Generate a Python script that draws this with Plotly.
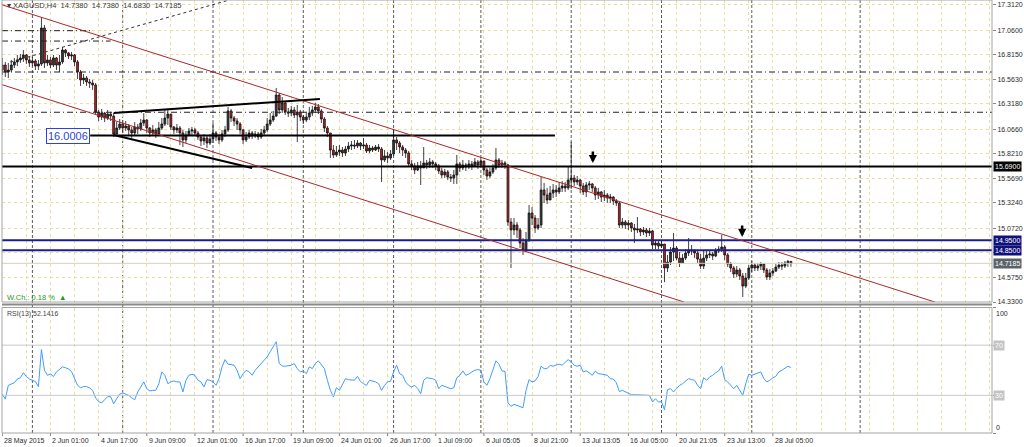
import plotly.graph_objects as go

# ---------------- data ----------------
SYMBOL = "XAGUSD,H4"
FIRST_OPEN = 16.659

BAR_CLOSE = [
    16.709, 16.639, 16.659, 16.709, 16.740, 16.760, 16.780, 16.810, 16.760, 16.730,
    16.750, 16.699, 16.720, 17.081, 16.730, 16.760, 16.709, 16.780, 16.709, 16.740,
    16.860, 16.830, 16.800, 16.810, 16.740, 16.639, 16.559, 16.579, 16.539, 16.529,
    16.509, 16.238, 16.187, 16.227, 16.177, 16.217, 16.197, 16.017, 16.077, 16.117,
    16.077, 16.097, 16.057, 16.027, 16.087, 16.067, 16.127, 16.157, 16.077, 16.027,
    16.057, 16.017, 16.077, 16.117, 16.177, 16.217, 16.087, 16.057, 16.077, 16.027,
    15.957, 16.007, 16.047, 16.057, 16.027, 15.987, 15.947, 15.977, 15.926, 15.967,
    16.027, 15.987, 15.957, 16.017, 16.057, 16.248, 16.177, 16.147, 16.117, 16.057,
    15.957, 15.987, 16.027, 15.997, 16.017, 15.987, 16.027, 16.057, 16.117, 16.157,
    16.197, 16.408, 16.258, 16.328, 16.238, 16.227, 16.258, 16.207, 16.238, 16.187,
    16.157, 16.187, 16.227, 16.258, 16.288, 16.248, 16.167, 16.077, 16.027, 15.856,
    15.806, 15.836, 15.856, 15.826, 15.866, 15.896, 15.906, 15.896, 15.926, 15.896,
    15.906, 15.846, 15.876, 15.856, 15.886, 15.866, 15.756, 15.796, 15.776, 15.816,
    15.957, 15.926, 15.886, 15.856, 15.826, 15.716, 15.696, 15.655, 15.696, 15.676,
    15.726, 15.706, 15.736, 15.716, 15.696, 15.645, 15.605, 15.635, 15.585, 15.575,
    15.605, 15.716, 15.676, 15.706, 15.686, 15.716, 15.696, 15.736, 15.706, 15.746,
    15.655, 15.595, 15.635, 15.676, 15.756, 15.706, 15.726, 15.706, 15.133, 15.053,
    15.103, 15.053, 14.922, 14.852, 14.952, 15.223, 15.173, 15.073, 15.103, 15.455,
    15.404, 15.354, 15.424, 15.455, 15.435, 15.475, 15.495, 15.475, 15.555, 15.575,
    15.535, 15.555, 15.495, 15.435, 15.505, 15.515, 15.475, 15.404, 15.435, 15.384,
    15.404, 15.374, 15.384, 15.344, 15.324, 15.103, 15.133, 15.103, 15.123, 15.073,
    15.053, 15.063, 15.033, 15.053, 15.023, 15.043, 14.902, 14.922, 14.892, 14.912,
    14.671, 14.731, 14.832, 14.872, 14.771, 14.721, 14.771, 14.822, 14.852, 14.842,
    14.822, 14.761, 14.691, 14.771, 14.802, 14.812, 14.792, 14.842, 14.862, 14.882,
    14.802, 14.711, 14.671, 14.611, 14.651, 14.591, 14.490, 14.571, 14.671, 14.701,
    14.671, 14.691, 14.711, 14.651, 14.581, 14.621, 14.641, 14.681, 14.701, 14.691,
    14.721, 14.738, 14.7185,
]

BAR_HIGH = [
    16.780, 16.740, 16.730, 16.760, 16.780, 16.810, 16.820, 16.860, 16.820, 16.790,
    16.790, 16.770, 16.760, 17.191, 17.111, 16.810, 16.790, 16.810, 16.790, 16.810,
    16.890, 16.870, 16.840, 16.840, 16.820, 16.760, 16.659, 16.619, 16.599, 16.569,
    16.559, 16.529, 16.258, 16.268, 16.238, 16.258, 16.238, 16.227, 16.137, 16.167,
    16.157, 16.147, 16.117, 16.087, 16.137, 16.117, 16.167, 16.227, 16.167, 16.087,
    16.107, 16.077, 16.137, 16.177, 16.258, 16.258, 16.207, 16.097, 16.117, 16.097,
    16.057, 16.047, 16.077, 16.087, 16.077, 16.047, 16.007, 16.017, 15.997, 16.017,
    16.127, 16.047, 16.017, 16.057, 16.097, 16.288, 16.268, 16.197, 16.177, 16.137,
    16.067, 16.037, 16.057, 16.047, 16.047, 16.037, 16.067, 16.097, 16.177, 16.227,
    16.248, 16.479, 16.428, 16.388, 16.338, 16.278, 16.298, 16.288, 16.308, 16.258,
    16.207, 16.227, 16.288, 16.298, 16.328, 16.318, 16.268, 16.187, 16.097, 16.027,
    15.906, 15.896, 15.906, 15.886, 15.896, 15.936, 15.947, 15.957, 15.957, 15.936,
    15.977, 15.926, 15.906, 15.896, 15.906, 15.916, 15.886, 15.856, 15.836, 15.856,
    16.057, 15.987, 15.947, 15.906, 15.876, 15.846, 15.756, 15.726, 15.736, 15.746,
    15.886, 15.756, 15.776, 15.756, 15.736, 15.716, 15.676, 15.666, 15.655, 15.615,
    15.655, 15.806, 15.736, 15.756, 15.726, 15.756, 15.746, 15.776, 15.756, 15.786,
    15.746, 15.676, 15.676, 15.716, 15.876, 15.776, 15.756, 15.746, 15.716, 15.173,
    15.173, 15.133, 15.073, 14.972, 15.033, 15.304, 15.284, 15.203, 15.173, 15.585,
    15.525, 15.475, 15.495, 15.515, 15.505, 15.535, 15.545, 15.535, 15.686, 15.937,
    15.605, 15.595, 15.565, 15.525, 15.535, 15.545, 15.525, 15.495, 15.475, 15.445,
    15.455, 15.424, 15.414, 15.394, 15.364, 15.334, 15.173, 15.153, 15.153, 15.133,
    15.113, 15.183, 15.073, 15.083, 15.073, 15.073, 15.053, 14.952, 14.942, 14.942,
    14.912, 14.802, 14.882, 15.023, 14.892, 14.832, 14.812, 14.862, 14.972, 14.902,
    14.862, 14.842, 14.812, 14.852, 14.852, 14.852, 14.832, 14.872, 14.892, 15.003,
    14.902, 14.822, 14.731, 14.691, 14.691, 14.671, 14.621, 14.621, 14.701, 14.741,
    14.721, 14.721, 14.731, 14.721, 14.671, 14.661, 14.671, 14.711, 14.731, 14.731,
    14.741, 14.751, 14.738,
]

BAR_LOW = [
    16.609, 16.589, 16.579, 16.639, 16.679, 16.699, 16.730, 16.740, 16.720, 16.689,
    16.699, 16.659, 16.659, 16.699, 16.679, 16.699, 16.679, 16.689, 16.659, 16.639,
    16.720, 16.790, 16.770, 16.760, 16.699, 16.569, 16.499, 16.519, 16.499, 16.479,
    16.459, 16.208, 16.147, 16.157, 16.137, 16.157, 16.147, 15.987, 16.017, 16.057,
    16.027, 16.047, 15.997, 15.977, 15.997, 16.017, 16.047, 16.097, 16.027, 15.987,
    16.007, 15.977, 15.997, 16.057, 16.097, 16.107, 16.057, 16.017, 16.027, 15.906,
    15.886, 15.926, 15.997, 16.007, 15.997, 15.957, 15.896, 15.906, 15.876, 15.906,
    15.926, 15.947, 15.916, 15.936, 15.987, 16.037, 16.137, 16.097, 16.057, 16.017,
    15.916, 15.936, 15.967, 15.967, 15.977, 15.957, 15.967, 15.997, 16.037, 16.097,
    16.137, 16.187, 16.217, 16.227, 16.207, 16.187, 16.197, 16.177, 15.936, 16.147,
    16.117, 16.137, 16.157, 16.197, 16.227, 16.217, 16.127, 16.037, 15.987, 15.776,
    15.776, 15.786, 15.796, 15.786, 15.796, 15.836, 15.856, 15.866, 15.876, 15.856,
    15.866, 15.826, 15.826, 15.836, 15.846, 15.836, 15.535, 15.736, 15.726, 15.756,
    15.796, 15.856, 15.826, 15.796, 15.776, 15.686, 15.655, 15.615, 15.645, 15.505,
    15.676, 15.666, 15.676, 15.676, 15.655, 15.615, 15.575, 15.575, 15.555, 15.535,
    15.515, 15.515, 15.635, 15.655, 15.645, 15.666, 15.655, 15.686, 15.666, 15.696,
    15.605, 15.555, 15.575, 15.615, 15.655, 15.676, 15.676, 15.666, 15.093, 14.671,
    15.003, 14.973, 14.872, 14.802, 14.832, 14.932, 15.103, 15.023, 15.053, 15.073,
    15.324, 15.314, 15.354, 15.374, 15.384, 15.414, 15.435, 15.435, 15.455, 15.465,
    15.495, 15.505, 15.424, 15.404, 15.384, 15.455, 15.435, 15.354, 15.364, 15.334,
    15.344, 15.324, 15.324, 15.304, 15.294, 15.073, 15.073, 15.063, 15.053, 15.033,
    14.922, 15.023, 14.992, 15.003, 14.982, 14.992, 14.862, 14.862, 14.862, 14.872,
    14.530, 14.631, 14.701, 14.741, 14.751, 14.681, 14.751, 14.751, 14.792, 14.802,
    14.771, 14.721, 14.661, 14.661, 14.741, 14.771, 14.751, 14.781, 14.822, 14.832,
    14.751, 14.681, 14.631, 14.571, 14.581, 14.551, 14.380, 14.470, 14.551, 14.631,
    14.641, 14.641, 14.651, 14.621, 14.551, 14.551, 14.591, 14.631, 14.661, 14.651,
    14.671, 14.681, 14.683,
]

RSI13 = [
    31, 27, 38, 39, 40, 43, 44, 48, 45, 43,
    42, 41, 37, 66.5, 50, 46, 47, 45, 48.7, 51,
    52.7, 52, 51, 49, 43, 38, 36, 37, 37, 36,
    34, 28, 25, 24, 26.5, 29, 29, 23.3, 27.3, 31,
    32, 31, 30, 28, 26.5, 32.7, 37, 40.7, 35.3, 33.5,
    34, 34, 39.3, 48.7, 46, 39.3, 40.7, 41.5, 40.7, 40.7,
    32.7, 42, 46, 46.8, 46, 42, 40.7, 36.7, 42.5, 42,
    40.7, 38, 43.3, 52.7, 58.5, 54.8, 54.5, 54, 50, 43.3,
    47.3, 50, 48.7, 46, 50, 52.7, 55, 58.5, 60.7, 64.7,
    68.7, 72.7, 55.3, 53.5, 53.2, 53.5, 54, 55.3, 51.3, 48.7,
    49.5, 47.3, 52.7, 51.3, 55.3, 57.5, 54, 51.3, 42, 34,
    28.7, 36.1, 34, 39.3, 43.3, 42.5, 42.5, 42, 45.2, 41,
    39.3, 38, 42, 41.5, 40.7, 39.3, 34, 38, 40.7, 41.2,
    48.7, 54, 47.3, 46, 40.7, 38, 36.7, 38, 35.5, 31.3,
    42, 44, 43.5, 43.3, 42, 35.3, 38, 37, 36.1, 35.3,
    36, 44, 46, 49.5, 46, 47, 48.7, 50, 50.5, 50,
    40.7, 38, 43.3, 50, 57.5, 54.8, 49.5, 49, 24, 21.2,
    22.8, 22, 21, 20.1, 34, 42.5, 40.7, 41.5, 45, 53.2,
    51.3, 51.3, 54, 53.2, 54.2, 54.8, 54, 56, 58.5, 56.7,
    54, 53.2, 54, 48.7, 49.5, 48, 46, 49.2, 47.3, 47,
    46.8, 46, 43.3, 43, 40, 33, 34, 32.7, 31.3, 30.5,
    30.5, 30.5, 30.5, 30.5, 30.5, 30, 24.7, 27.3, 24.7, 25,
    18.5, 34.5, 35.3, 32.7, 35.3, 38, 39.3, 41, 43.3, 42.5,
    42, 38, 35.3, 44.1, 42, 44.7, 46, 48, 49.5, 53.2,
    42.5, 40.7, 38, 35.3, 38, 34, 30, 39.3, 46.8, 46,
    47, 47.9, 48.7, 43.3, 40.7, 42, 44, 45.2, 48.7, 50,
    51.3, 53.2, 52.1416,
]

TIME_LABELS = ["28 May 2015", "2 Jun 01:00", "4 Jun 17:00", "9 Jun 09:00", "12 Jun 01:00",
               "16 Jun 17:00", "19 Jun 09:00", "24 Jun 01:00", "26 Jun 17:00", "1 Jul 09:00",
               "6 Jul 05:05", "8 Jul 21:00", "13 Jul 13:05", "16 Jul 05:00", "20 Jul 21:05",
               "23 Jul 13:00", "28 Jul 05:00"]
LABEL_STEP = 16          # bars between time labels
GRID_STEP = 8            # bars between vertical grid lines
WEEK_SEPARATORS = [10, 40, 70, 100, 130, 159, 189, 219, 249, 285]

PRICE_TICKS = [17.3120, 17.0600, 16.8150, 16.5630, 16.3180, 16.0660, 15.8210,
               15.5690, 15.3240, 15.0720, 14.8270, 14.5750, 14.3300]
HIDDEN_TICKS = [14.8270]   # covered by the 14.85 level box in the reference
PRICE_RANGE = [14.330, 17.362]
RSI_LEVELS = [30, 70]

# drawing objects (bar index, price)
CHANNEL_UPPER = [(-0.1, 17.314), (309.8, 14.330)]
CHANNEL_LOWER = [(-0.1, 16.512), (226.5, 14.330)]
TRIANGLE_UPPER = [(37, 16.227), (105.5, 16.368)]
TRIANGLE_LOWER = [(37, 16.007), (83, 15.675)]
DIAG_DASHED = [(2.6, 16.739), (75.2, 17.360)]
LEVEL_16 = (29.2, 183.6, 16.0006)
DASHDOT_SHORT = [(30, 17.054), (36, 16.950)]
DASHDOT_FULL = [16.639, 16.235]
BLACK_LEVEL = 15.6900
BLUE_LEVELS = [14.9500, 14.8500]
ARROWS = [(196.2, 15.725), (245.8, 14.983)]
WEEK_CHANGE = 0.18

# ---------------- build ----------------
n = len(BAR_CLOSE)
xs = list(range(n))
opens = [FIRST_OPEN] + BAR_CLOSE[:-1]
highs = [max(h, o, c) for h, o, c in zip(BAR_HIGH, opens, BAR_CLOSE)]
lows = [min(l, o, c) for l, o, c in zip(BAR_LOW, opens, BAR_CLOSE)]
last_o, last_h, last_l, last_c = opens[-1], highs[-1], lows[-1], BAR_CLOSE[-1]

W, H = 1024, 447
ML, MR, MT, MB = 2, 32, 0, 14
PW, PH = W - ML - MR, H - MT - MB
XR = [-0.1, -0.1 + PW / 3.01]


def py(p):  # canvas pixel y -> paper
    return (PH - (p - MT)) / PH


def px(p):  # canvas pixel x -> paper
    return (p - ML) / PW


MAIN_DOM = [py(302), 1]
RSI_DOM = [0, py(307.5)]

GRID = "#e9dfa2"
FONT = "Liberation Sans"

fig = go.Figure()
fig.add_trace(go.Candlestick(
    x=xs, open=opens, high=highs, low=lows, close=BAR_CLOSE,
    xaxis="x", yaxis="y",
    increasing=dict(line=dict(color="#111111", width=0.8), fillcolor="#3b3b3b"),
    decreasing=dict(line=dict(color="#111111", width=0.8), fillcolor="#c41e22"),
    whiskerwidth=0, showlegend=False, hoverinfo="skip"))
fig.add_trace(go.Scatter(
    x=xs[:len(RSI13)], y=RSI13, xaxis="x", yaxis="y2", mode="lines",
    line=dict(color="#3f9cff", width=1), showlegend=False, hoverinfo="skip"))

shapes = []


def seg(p0, p1, color, width, dash="solid", yref="y"):
    shapes.append(dict(type="line", xref="x", yref=yref, x0=p0[0], y0=p0[1], x1=p1[0], y1=p1[1],
                       line=dict(color=color, width=width, dash=dash)))


# week separators
for b in WEEK_SEPARATORS:
    shapes.append(dict(type="line", xref="x", yref="paper", x0=b, x1=b, y0=0, y1=1,
                       line=dict(color="#5a5a5a", width=1, dash="3px,2px"), layer="below"))

# horizontal objects
for (bend, p) in DASHDOT_SHORT:
    seg((XR[0], p), (bend, p), "#222222", 1, "6px,3px,1px,3px")
for p in DASHDOT_FULL:
    seg((XR[0], p), (XR[1], p), "#222222", 1, "6px,3px,1px,3px")
seg((XR[0], last_c), (XR[1], last_c), "#d2d0c0", 1)
seg((XR[0], BLACK_LEVEL), (XR[1], BLACK_LEVEL), "#000000", 2)
for p in BLUE_LEVELS:
    seg((XR[0], p), (XR[1], p), "#1d1d8f", 2)
seg((LEVEL_16[0], LEVEL_16[2]), (LEVEL_16[1], LEVEL_16[2]), "#000000", 2)

# channel and triangle
seg(CHANNEL_UPPER[0], CHANNEL_UPPER[1], "#a8282a", 1)
seg(CHANNEL_LOWER[0], CHANNEL_LOWER[1], "#a8282a", 1)
seg(TRIANGLE_UPPER[0], TRIANGLE_UPPER[1], "#000000", 2)
seg(TRIANGLE_LOWER[0], TRIANGLE_LOWER[1], "#000000", 2)
seg(DIAG_DASHED[0], DIAG_DASHED[1], "#333333", 1, "3px,3px")

# RSI levels
for lv in RSI_LEVELS:
    seg((XR[0], lv), (XR[1], lv), "#c9c9c9", 1, yref="y2")

# time label ticks
for k in range(len(TIME_LABELS)):
    b = k * LABEL_STEP
    shapes.append(dict(type="line", xref="x", yref="paper", x0=b, x1=b, y0=0, y1=-3 / PH,
                       line=dict(color="#808080", width=1)))

# frames
FR = "#a4a4a4"
shapes.append(dict(type="rect", xref="paper", yref="paper", x0=0, x1=1, y0=MAIN_DOM[0], y1=1,
                   line=dict(color=FR, width=1)))
shapes.append(dict(type="rect", xref="paper", yref="paper", x0=0, x1=1, y0=0, y1=RSI_DOM[1],
                   line=dict(color=FR, width=1)))
shapes.append(dict(type="line", xref="paper", yref="paper", x0=0, x1=1, y0=py(304.5), y1=py(304.5),
                   line=dict(color="#8a8a8a", width=2)))

ann = []
small = dict(family=FONT, size=7, color="#2b2b2b")
for k, t in enumerate(TIME_LABELS):
    ann.append(dict(x=k * LABEL_STEP, xref="x", y=0, yref="paper", yanchor="top", xanchor="left",
                    yshift=-2, xshift=0, text=t, showarrow=False, font=small))

ann.append(dict(x=px(5), xref="paper", y=py(5.5), yref="paper", xanchor="left", yanchor="middle",
                text="\u25BE %s  %.4f  %.4f  %.4f  %.4f" % (SYMBOL, last_o, last_h, last_l, last_c),
                showarrow=False, font=dict(family=FONT, size=7.5, color="#3a3a3a")))
ann.append(dict(x=px(5), xref="paper", y=py(297), yref="paper", xanchor="left", yanchor="middle",
                text="W.Ch.: %.2f %%  \u25B2" % WEEK_CHANGE, showarrow=False,
                font=dict(family=FONT, size=7.5, color="#1a9a1a")))
ann.append(dict(x=px(5), xref="paper", y=py(313.5), yref="paper", xanchor="left", yanchor="middle",
                text="RSI(13) %.4f" % RSI13[-1], showarrow=False,
                font=dict(family=FONT, size=7, color="#444444")))

# level label on chart
ann.append(dict(x=LEVEL_16[0], xref="x", y=LEVEL_16[2], yref="y", xanchor="right", yanchor="middle",
                text="%.4f" % LEVEL_16[2], showarrow=False, bgcolor="#ffffff",
                bordercolor="#2f3fe0", borderwidth=1, borderpad=1,
                font=dict(family=FONT, size=11, color="#2f3fe0")))

# arrows
for (b, p) in ARROWS:
    ann.append(dict(x=b, xref="x", y=p, yref="y", ax=0, ay=-13, text="", showarrow=True,
                    arrowhead=2, arrowsize=0.65, arrowwidth=2.5, arrowcolor="#000000"))

# right-axis value boxes
for (p, bg) in [(BLACK_LEVEL, "#000000"), (BLUE_LEVELS[0], "#10107a"), (BLUE_LEVELS[1], "#10107a"),
                (last_c, "#5c6368")]:
    ann.append(dict(x=1, xref="paper", y=p, yref="y", xanchor="left", yanchor="middle", xshift=1,
                    text="%.4f" % p, showarrow=False, bgcolor=bg, borderpad=1,
                    font=dict(family=FONT, size=7, color="#ffffff")))

# RSI axis labels
ann.append(dict(x=1, xref="paper", y=100, yref="y2", xanchor="left", yanchor="top", xshift=2,
                text="100", showarrow=False, font=small))
ann.append(dict(x=1, xref="paper", y=0, yref="y2", xanchor="left", yanchor="bottom", xshift=2,
                text="0", showarrow=False, font=small))
for lv in RSI_LEVELS:
    ann.append(dict(x=1, xref="paper", y=lv, yref="y2", xanchor="left", yanchor="middle", xshift=1,
                    text=str(lv), showarrow=False, bgcolor="#c4c4c4", borderpad=1,
                    font=dict(family=FONT, size=7, color="#ffffff")))

fig.update_layout(
    width=W, height=H, margin=dict(l=ML, r=MR, t=MT, b=MB),
    paper_bgcolor="#ffffff", plot_bgcolor="#ffffff",
    showlegend=False, boxgap=0.12,
    xaxis=dict(domain=[0, 1], range=XR, anchor="y2",
               tickmode="array", tickvals=list(range(0, int(XR[1]) + 1, GRID_STEP)),
               showticklabels=False, ticks="", showgrid=True, gridcolor=GRID, griddash="3px,3px",
               gridwidth=1, zeroline=False, showline=False, rangeslider=dict(visible=False)),
    yaxis=dict(domain=MAIN_DOM, range=PRICE_RANGE, side="right", anchor="x",
               tickmode="array", tickvals=PRICE_TICKS,
               ticktext=["" if v in HIDDEN_TICKS else "%.4f" % v for v in PRICE_TICKS],
               tickfont=small, ticks="outside", ticklen=3, tickcolor="#8a8a8a",
               showgrid=True, gridcolor=GRID, griddash="3px,3px", gridwidth=1,
               zeroline=False, showline=False),
    yaxis2=dict(domain=RSI_DOM, range=[0, 100], side="right", anchor="x",
                tickmode="array", tickvals=[0, 30, 70, 100], showticklabels=False,
                ticks="outside", ticklen=3, tickcolor="#8a8a8a",
                showgrid=False, zeroline=False, showline=False),
    shapes=shapes, annotations=ann,
)

fig.write_html("out.html", config={"displayModeBar": False},
               post_script="document.body.style.margin='0';document.body.style.padding='0';"
                           "document.body.style.overflow='hidden';")
